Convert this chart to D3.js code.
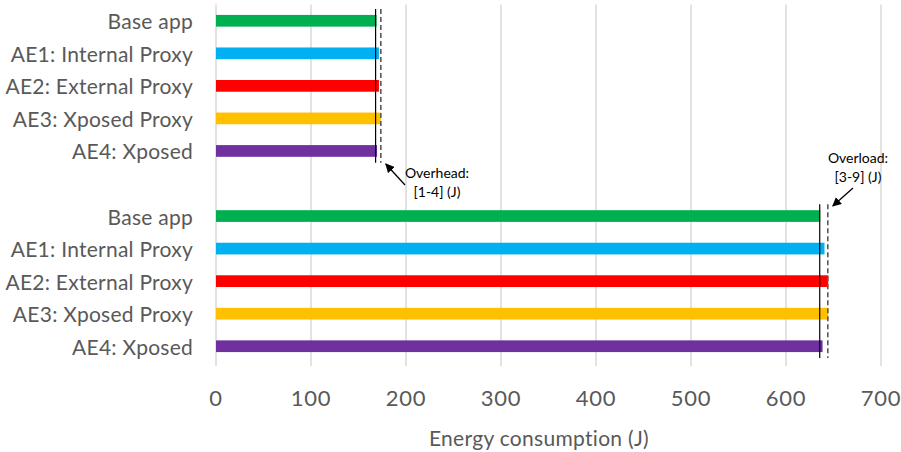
<!DOCTYPE html>
<html>
<head>
<meta charset="utf-8">
<script src="https://cdn.jsdelivr.net/npm/d3@7/dist/d3.min.js"></script>
<style>
  html, body { margin: 0; padding: 0; background: #fff; }
  svg { display: block; }
  text { font-family: Lato, "Open Sans", sans-serif; fill: #595959; }
</style>
</head>
<body>
<svg id="chart" width="901" height="452"></svg>
<script>
// Scenario labels and bar colours
const labels = ["Base app", "AE1: Internal Proxy", "AE2: External Proxy", "AE3: Xposed Proxy", "AE4: Xposed"];
const colors = ["#00B050", "#00B0F0", "#FF0000", "#FFC000", "#7030A0"];

// Energy consumption (J) for the two measurement groups
const groupA = [169, 171.5, 171.5, 173.5, 169.5];
const groupB = [636, 640.5, 644.5, 644.5, 638.5];

// Reference lines per group: [solid, dashed]
const refA = [168, 173.5];
const refB = [635.5, 644];

// Axis ticks
const xTicks = [0, 100, 200, 300, 400, 500, 600, 700];
const axisTitle = "Energy consumption (J)";

// Annotation texts
const noteA = ["Overhead:", "[1-4] (J)"];
const noteB = ["Overload:", "[3-9] (J)"];

// Rows: group A, spacer, group B
const rows = [];
labels.forEach((l, i) => rows.push({ id: "a" + i, label: l, value: groupA[i], color: colors[i] }));
rows.push({ id: "gap", label: "", value: null });
labels.forEach((l, i) => rows.push({ id: "b" + i, label: l, value: groupB[i], color: colors[i] }));

const svg = d3.select("#chart");
const plotLeft = 216, plotRight = 881, plotTop = 4.5, plotBottom = 362.5;

const x = d3.scaleLinear().domain([0, 700]).range([plotLeft, plotRight]);
const y = d3.scaleBand().domain(rows.map(r => r.id)).range([plotTop, plotBottom]).paddingInner(0.64).paddingOuter(0.32);

// Vertical gridlines
svg.append("g").selectAll("line").data(xTicks).join("line")
  .attr("x1", d => x(d)).attr("x2", d => x(d))
  .attr("y1", plotTop).attr("y2", 366)
  .attr("stroke", "#d9d9d9").attr("stroke-width", 1.5);

// X tick labels
svg.append("g").selectAll("text").data(xTicks).join("text")
  .attr("x", d => x(d)).attr("y", 397)
  .attr("text-anchor", "middle").attr("dominant-baseline", "central")
  .style("font-size", "22px").style("letter-spacing", "0.8px")
  .text(d => d);

// Axis title
svg.append("text")
  .attr("x", 539).attr("y", 437)
  .attr("text-anchor", "middle").attr("dominant-baseline", "central")
  .style("font-size", "21px").style("letter-spacing", "0.3px")
  .text(axisTitle);

// Category labels
const dataRows = rows.filter(r => r.value !== null);
svg.append("g").selectAll("text").data(dataRows).join("text")
  .attr("x", plotLeft - 23)
  .attr("y", d => y(d.id) + y.bandwidth() / 2)
  .attr("text-anchor", "end").attr("dominant-baseline", "central")
  .style("font-size", "21px").style("letter-spacing", "0.25px")
  .text(d => d.label);

// Bars
svg.append("g").selectAll("rect").data(dataRows).join("rect")
  .attr("x", x(0))
  .attr("y", d => y(d.id))
  .attr("width", d => x(d.value) - x(0))
  .attr("height", y.bandwidth())
  .attr("fill", d => d.color);

// Reference lines spanning each group
function refLines(ref, firstId, lastId) {
  const y1 = y(firstId) - 6, y2 = y(lastId) + y.bandwidth() + 6;
  svg.append("line")
    .attr("x1", x(ref[0])).attr("x2", x(ref[0]))
    .attr("y1", y1).attr("y2", y2)
    .attr("stroke", "#000").attr("stroke-width", 1.2);
  svg.append("line")
    .attr("x1", x(ref[1])).attr("x2", x(ref[1]))
    .attr("y1", y1).attr("y2", y2)
    .attr("stroke", "#595959").attr("stroke-width", 1.6)
    .attr("stroke-dasharray", "5,3");
}
refLines(refA, "a0", "a4");
refLines(refB, "b0", "b4");

// Arrow marker
svg.append("defs").append("marker")
  .attr("id", "arrow").attr("viewBox", "0 0 10 10")
  .attr("refX", 9).attr("refY", 5)
  .attr("markerWidth", 7).attr("markerHeight", 7)
  .attr("orient", "auto-start-reverse")
  .append("path").attr("d", "M0,0 L10,5 L0,10 z").attr("fill", "#000");

function note(lines, cx, cy, ax1, ay1, ax2, ay2) {
  svg.append("line")
    .attr("x1", ax1).attr("y1", ay1).attr("x2", ax2).attr("y2", ay2)
    .attr("stroke", "#000").attr("stroke-width", 1.3)
    .attr("marker-end", "url(#arrow)");
  lines.forEach((t, i) => {
    svg.append("text")
      .attr("x", cx).attr("y", cy + i * 19)
      .attr("text-anchor", "middle").attr("dominant-baseline", "central")
      .style("font-size", "14px").style("fill", "#000")
      .text(t);
  });
}
note(noteA, 437, 172, 405, 185, x(refA[1]) + 5, 164);
note(noteB, 858, 157, 853, 188, x(refB[1]) + 5, 206);
</script>
</body>
</html>
